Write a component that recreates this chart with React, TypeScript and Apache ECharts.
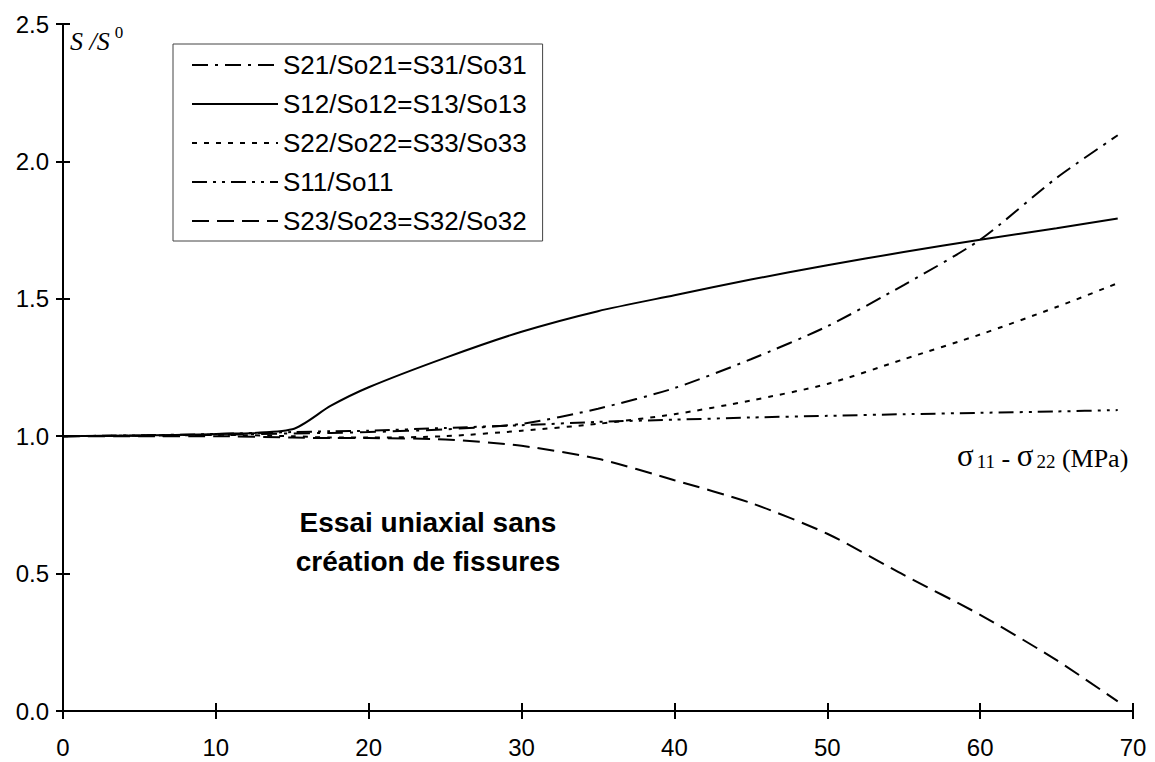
import React, { useEffect, useRef } from "react";
import * as echarts from "echarts";

const X = [0, 5, 10, 15, 17.5, 20, 25, 30, 35, 40, 45, 50, 55, 60, 65, 69];
const S21 = [1.0, 1.002, 1.005, 1.01, 1.012, 1.015, 1.025, 1.045, 1.1, 1.175, 1.28, 1.4, 1.55, 1.715, 1.94, 2.095];
const S12 = [1.0, 1.003, 1.008, 1.025, 1.11, 1.178, 1.285, 1.38, 1.455, 1.513, 1.57, 1.622, 1.67, 1.715, 1.757, 1.792];
const S22 = [1.0, 1.002, 1.005, 1.0, 0.995, 0.995, 1.0, 1.02, 1.045, 1.08, 1.13, 1.19, 1.28, 1.37, 1.47, 1.557];
const S11 = [1.0, 1.003, 1.008, 1.015, 1.018, 1.02, 1.03, 1.04, 1.052, 1.06, 1.068, 1.074, 1.08, 1.085, 1.09, 1.095];
const S23 = [1.0, 1.0, 1.0, 0.995, 0.993, 0.993, 0.988, 0.965, 0.918, 0.84, 0.757, 0.645, 0.495, 0.35, 0.185, 0.035];

const NAMES = [
  "S21/So21=S31/So31",
  "S12/So12=S13/So13",
  "S22/So22=S33/So33",
  "S11/So11",
  "S23/So23=S32/So32",
];
const VALUES = [S21, S12, S22, S11, S23];
const DASHES: any[] = [
  [16, 7, 3, 7],
  "solid",
  [5, 7],
  [15, 6, 3, 6, 3, 6],
  [17, 8],
];
const X_MIN = 0;
const X_MAX = 70;
const X_INTERVAL = 10;
const Y_MIN = 0;
const Y_MAX = 2.5;
const Y_INTERVAL = 0.5;

const SANS = "Arial, 'Liberation Sans', sans-serif";
const SERIF = "'Times New Roman', 'Liberation Serif', serif";

export default function App() {
  const ref = useRef<HTMLDivElement>(null);
  useEffect(() => {
    document.body.style.margin = "0";
    const chart = echarts.init(ref.current!, undefined, { renderer: "svg" });
    const axisBase = {
      type: "value" as const,
      splitLine: { show: false },
    };
    const option: any = {
      animation: false,
      backgroundColor: "#fff",
      grid: { left: 63, right: 22, top: 24, bottom: 51, containLabel: false },
      xAxis: [
        {
          ...axisBase,
          min: X_MIN,
          max: X_MAX,
          interval: X_INTERVAL,
          position: "bottom",
          axisLine: { show: true, onZero: false, lineStyle: { color: "#000", width: 2 } },
          axisTick: { show: true, inside: false, length: 8, lineStyle: { color: "#000", width: 2 } },
          axisLabel: { color: "#000", fontSize: 24, fontFamily: SANS, margin: 24 },
        },
        {
          ...axisBase,
          min: X_MIN,
          max: X_MAX,
          interval: X_INTERVAL,
          position: "bottom",
          axisLine: { show: false, onZero: false },
          axisTick: { show: true, inside: true, length: 8, lineStyle: { color: "#000", width: 2 } },
          axisLabel: { show: false },
        },
      ],
      yAxis: [
        {
          ...axisBase,
          min: Y_MIN,
          max: Y_MAX,
          interval: Y_INTERVAL,
          position: "left",
          axisLine: { show: true, onZero: false, lineStyle: { color: "#000", width: 2 } },
          axisTick: { show: true, inside: false, length: 7, lineStyle: { color: "#000", width: 2 } },
          axisLabel: {
            color: "#000",
            fontSize: 24,
            fontFamily: SANS,
            margin: 14,
            formatter: (v: number) => v.toFixed(1),
          },
        },
        {
          ...axisBase,
          min: Y_MIN,
          max: Y_MAX,
          interval: Y_INTERVAL,
          position: "left",
          axisLine: { show: false, onZero: false },
          axisTick: { show: true, inside: true, length: 7, lineStyle: { color: "#000", width: 2 } },
          axisLabel: { show: false },
        },
      ],
      legend: {
        orient: "vertical",
        left: 173,
        top: 44,
        data: NAMES,
        itemWidth: 86,
        itemHeight: 14,
        itemGap: 9,
        padding: [6, 16, 5, 18],
        borderColor: "#444",
        borderWidth: 1,
        backgroundColor: "#fff",
        itemStyle: { opacity: 0 },
        textStyle: { color: "#000", fontSize: 26, fontFamily: SANS, lineHeight: 30 },
      },
      series: NAMES.map((name, k) => ({
        name,
        type: "line",
        xAxisIndex: 0,
        yAxisIndex: 0,
        symbol: "none",
        smooth: 0.25,
        z: 3,
        data: X.map((x, i) => [x, VALUES[k][i]]),
        lineStyle: { color: "#000", width: 2, type: DASHES[k] },
        itemStyle: { color: "#000" },
      })),
      graphic: [
        {
          type: "text",
          left: 70,
          top: 24,
          style: {
            text: "{a|S}{b| /}{a|S}{c|0}",
            rich: {
              a: { fontFamily: SERIF, fontStyle: "italic", fontSize: 26, color: "#000", verticalAlign: "bottom", lineHeight: 30 },
              b: { fontFamily: SERIF, fontStyle: "italic", fontSize: 26, color: "#000", verticalAlign: "bottom", lineHeight: 30 },
              c: { fontFamily: SERIF, fontSize: 17, color: "#000", verticalAlign: "top", lineHeight: 30, padding: [0, 0, 0, 5] },
            },
          },
        },
        {
          type: "text",
          left: 957,
          top: 440,
          style: {
            text: "{s|σ}{u|11}{n| - }{s|σ}{u|22}{n| (MPa)}",
            rich: {
              s: { fontFamily: SERIF, fontSize: 31, color: "#000", verticalAlign: "bottom", lineHeight: 32 },
              n: { fontFamily: SERIF, fontSize: 26, color: "#000", verticalAlign: "bottom", lineHeight: 32 },
              u: { fontFamily: SERIF, fontSize: 19, color: "#000", verticalAlign: "bottom", lineHeight: 32, padding: [0, 0, 0, 3] },
            },
          },
        },
        {
          type: "text",
          x: 428,
          y: 542,
          style: {
            text: "Essai uniaxial sans\ncréation de fissures",
            fontFamily: SANS,
            fontWeight: "bold",
            fontSize: 28,
            lineHeight: 39,
            fill: "#000",
            align: "center",
            verticalAlign: "middle",
          },
        },
      ],
    };
    chart.setOption(option);
    return () => chart.dispose();
  }, []);
  return (
    <div
      ref={ref}
      style={{ position: "fixed", left: 0, top: 0, width: 1155, height: 762, background: "#fff" }}
    />
  );
}
